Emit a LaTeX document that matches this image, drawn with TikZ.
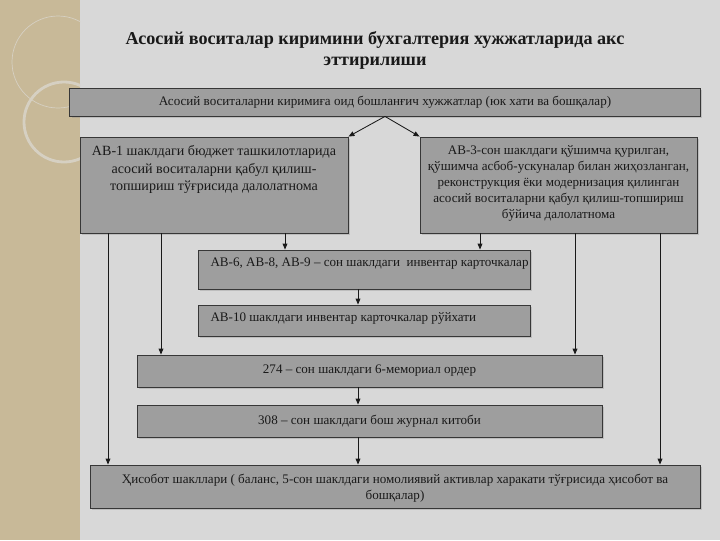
\documentclass[tikz,border=0pt]{standalone}
\usepackage{fontspec}
\setmainfont{Liberation Serif}
\usetikzlibrary{arrows.meta,positioning,shadows,calc}
\definecolor{slate}{RGB}{216,216,216}
\definecolor{sand}{RGB}{200,185,152}
\definecolor{ring}{RGB}{214,208,194}
\definecolor{boxgray}{RGB}{158,158,158}
\definecolor{frame}{RGB}{55,55,55}
\definecolor{ink}{RGB}{25,25,25}
\tikzset{
  >={Triangle[length=1.5mm,width=1.2mm]},
  doc/.style={draw=frame,fill=boxgray,line width=0.6pt,inner sep=0pt,
    drop shadow={opacity=0.3,shadow xshift=0.5mm,shadow yshift=-0.6mm}},
  txt/.style={font=\fontsize{9.3}{11.3}\selectfont,text=ink,align=center},
  bigtxt/.style={font=\fontsize{10}{12.4}\selectfont,text=ink,align=center},
  flow/.style={->,line width=0.6pt,draw=ink},
}
\begin{document}
\begin{tikzpicture}[x=0.025cm,y=-0.025cm]
  % slide background
  \fill[slate] (0,0) rectangle (720,540);
  \fill[sand] (0,0) rectangle (80,540);
  \begin{scope}
    \clip (0,0) rectangle (80,540);
    \draw[ring,line width=0.5pt] (58,62) circle (46);
    \draw[ring,line width=2pt] (64,122) circle (40);
  \end{scope}
  \useasboundingbox (0,0) rectangle (720,540);

  % title
  \node[font=\fontsize{12.9}{15}\selectfont\bfseries,text=ink,align=center] (title) at (375,50)
    {Асосий воситалар киримини бухгалтерия хужжатларида акс\\эттирилиши};

  % documents
  \node[doc,minimum width=15.75cm,minimum height=0.7cm,txt] (src) at (385,102)
    {Асосий воситаларни киримиға оид бошланғич хужжатлар (юк хати ва бошқалар)};
  \node[doc,minimum width=6.7cm,minimum height=2.4cm] (ab1) at (214,185) {};
  \node[bigtxt,anchor=north] at ([yshift=-0.1cm]ab1.north)
    {АВ-1 шаклдаги бюджет ташкилотларида\\асосий воситаларни қабул қилиш-\\топшириш тўғрисида далолатнома};
  \node[doc,minimum width=6.925cm,minimum height=2.4cm] (ab3) at (558.5,185) {};
  \node[txt,anchor=north] at ([yshift=-0.1cm]ab3.north)
    {АВ-3-сон шаклдаги қўшимча қурилган,\\қўшимча асбоб-ускуналар билан жиҳозланган,\\реконструкция ёки модернизация қилинган\\асосий воситаларни қабул қилиш-топшириш\\бўйича далолатнома};
  \node[doc,minimum width=8.3cm,minimum height=0.975cm] (ab6) at (364,269.5) {};
  \node[txt,anchor=west] at ([xshift=0.2cm,yshift=0.14cm]ab6.west)
    {АВ-6, АВ-8, АВ-9 -- сон шаклдаги \ инвентар карточкалар};
  \node[doc,minimum width=8.3cm,minimum height=0.775cm] (ab10) at (364,320.5) {};
  \node[txt,anchor=west] at ([xshift=0.2cm,yshift=0.05cm]ab10.west)
    {АВ-10 шаклдаги инвентар карточкалар рўйхати};
  \node[doc,minimum width=11.625cm,minimum height=0.8cm,txt] (o274) at (369.5,371)
    {274 -- сон шаклдаги 6-мемориал ордер};
  \node[doc,minimum width=11.625cm,minimum height=0.8cm,txt] (j308) at (369.5,421)
    {308 -- сон шаклдаги бош журнал китоби};
  \node[doc,minimum width=15.25cm,minimum height=1.075cm] (rep) at (395,486.5) {};
  \node[txt,anchor=north] at ([yshift=-0.12cm]rep.north)
    {Ҳисобот шакллари ( баланс, 5-сон шаклдаги номолиявий активлар харакати тўғрисида ҳисобот ва\\бошқалар)};

  % connectors
  \coordinate (mid) at (358,0);
  \draw[flow] (src.south) -- (ab1.north east);
  \draw[flow] (src.south) -- (ab3.north west);
  \foreach \x/\t in {108/rep,161/o274,285/ab6}
    \draw[flow] (\x,0 |- ab1.south) -- (\x,0 |- \t.north);
  \foreach \x/\t in {480/ab6,575/o274,660/rep}
    \draw[flow] (\x,0 |- ab3.south) -- (\x,0 |- \t.north);
  \foreach \a/\b in {ab6/ab10,o274/j308,j308/rep}
    \draw[flow] (mid |- \a.south) -- (mid |- \b.north);
\end{tikzpicture}
\end{document}
